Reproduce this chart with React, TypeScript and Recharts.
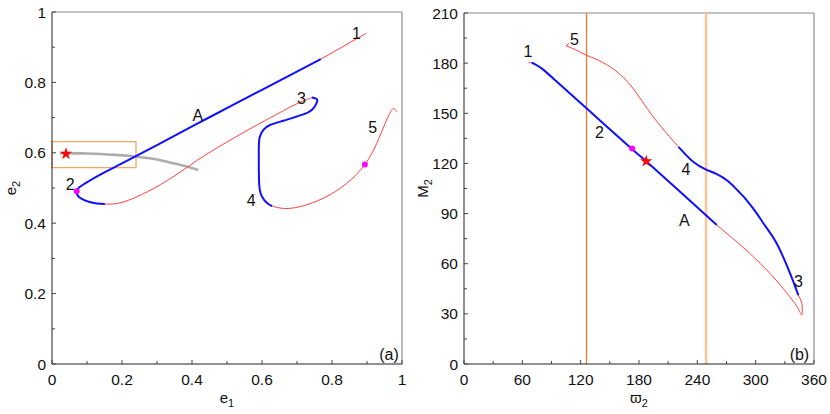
import React from "react";
import {
  ComposedChart, Line, Scatter, XAxis, YAxis, ReferenceLine, ReferenceArea, Label, Symbols,
} from "recharts";

// ---- panel (a): e1 vs e2 ----
const aTicks = [0, 0.1, 0.2, 0.3, 0.4, 0.5, 0.6, 0.7, 0.8, 0.9, 1];

const aRedTop = [[0.897, 0.939], [0.768, 0.866]];
const aBlueA = [
  [0.768, 0.866], [0.6, 0.779], [0.45, 0.701], [0.3, 0.622], [0.2, 0.57], [0.13, 0.534],
  [0.095, 0.513], [0.078, 0.502], [0.0705, 0.491], [0.073, 0.479], [0.085, 0.469],
  [0.105, 0.461], [0.128, 0.456], [0.151, 0.4545],
];
const aRed23 = [
  [0.151, 0.4545], [0.171, 0.4545], [0.2, 0.459], [0.242, 0.475], [0.309, 0.509],
  [0.385, 0.558], [0.442, 0.596], [0.537, 0.652], [0.632, 0.704], [0.699, 0.739],
  [0.732, 0.753], [0.742, 0.757],
];
const aBlue34 = [
  [0.742, 0.757], [0.754, 0.754], [0.758, 0.747], [0.749, 0.729], [0.732, 0.715],
  [0.699, 0.703], [0.661, 0.691], [0.623, 0.679], [0.604, 0.665], [0.594, 0.646],
  [0.591, 0.617], [0.591, 0.55], [0.592, 0.51], [0.596, 0.485], [0.606, 0.466],
  [0.618, 0.4545], [0.629, 0.449],
];
const aRed45 = [
  [0.629, 0.449], [0.661, 0.442], [0.709, 0.447], [0.775, 0.471], [0.842, 0.513],
  [0.894, 0.567], [0.928, 0.627], [0.956, 0.693], [0.971, 0.722], [0.977, 0.726], [0.985, 0.717],
];
const aGray = [
  [0.023, 0.599], [0.1, 0.598], [0.18, 0.594], [0.242, 0.589], [0.3, 0.581],
  [0.347, 0.57], [0.385, 0.561], [0.418, 0.551],
];
const aDots = [[0.0705, 0.491], [0.894, 0.567]];
const aStar = [[0.04, 0.597]];
const aBox = { x1: 0, x2: 0.24, y1: 0.558, y2: 0.632 };
const aLabels: [number, number, string][] = [
  [0.87, 0.94, "1"], [0.417, 0.707, "A"], [0.713, 0.753, "3"], [0.916, 0.671, "5"],
  [0.052, 0.509, "2"], [0.569, 0.464, "4"], [0.963, 0.028, "(a)"],
];

// ---- panel (b): varpi2 vs M2 ----
const bXTicks = [0, 30, 60, 90, 120, 150, 180, 210, 240, 270, 300, 330, 360];
const bYTicks = [0, 15, 30, 45, 60, 75, 90, 105, 120, 135, 150, 165, 180, 195, 210];

const bRedStart = [[66.4, 180.3], [69.5, 180.2]];
const bBlueA = [
  [69.5, 180.2], [73.3, 179.3], [80.2, 176.7], [93.8, 169.8], [126, 153], [173, 128.5],
  [187.4, 121.3], [220, 104.2], [260, 83.1],
];
const bRed3 = [
  [260, 83.1], [275, 75.8], [290, 68.3], [305, 60], [320, 50.8], [335, 40.3], [343, 33.8],
  [347.4, 29.3], [347.9, 33], [347.2, 37], [343.9, 41.2],
];
const bBlue34 = [
  [343.9, 41.2], [335.4, 54.2], [321.7, 72.1], [310, 82.5], [301.1, 90.1], [290, 98.5],
  [282, 103.5], [272, 109.2], [260, 113.6], [248, 116.6], [236, 120.9], [228, 125.3], [220.6, 129.9],
];
const bRed45 = [
  [220.6, 129.9], [203, 141.8], [189.7, 151.8], [172.6, 165.8], [155.5, 175.7],
  [138.3, 181.7], [126, 184.7], [114.4, 188.1], [105.1, 190.3],
];
const bHook = [[105.1, 190.3], [107.8, 192]];
const bDots = [[173, 128.9]];
const bStar = [[187.4, 121.3]];
const bVLines = [126, 249];
const bLabels: [number, number, string][] = [
  [65.8, 186.9, "1"], [113.6, 194.4, "5"], [139.3, 138.4, "2"], [228.3, 116.4, "4"],
  [226.6, 85.8, "A"], [343.9, 49.2, "3"], [345, 5.4, "(b)"],
];

const RED = "#ff4040";
const BLUE = "#1010ff";
const AXIS = "#222";
const FONT = "'Liberation Sans', Arial, sans-serif";

const pts = (arr: number[][]) => arr.map(([x, y]) => ({ x, y }));

// ticks point into the plot, minor ones unlabelled
const bottomTick = (isMajor: (v: number) => boolean) => (props: any) => {
  const { x, y, payload } = props;
  const v = payload.value;
  const major = isMajor(v);
  const ay = y - 15;
  return (
    <g>
      <line x1={x} x2={x} y1={ay} y2={ay - (major ? 4 : 3)} stroke="#444" strokeWidth={1} />
      {major && (
        <text x={x} y={y} textAnchor="middle" dominantBaseline="central" fontSize={15.5} fill="#111" fontFamily={FONT}>
          {v}
        </text>
      )}
    </g>
  );
};

const leftTick = (isMajor: (v: number) => boolean) => (props: any) => {
  const { x, y, payload } = props;
  const v = payload.value;
  const major = isMajor(v);
  const ax = x + 6;
  return (
    <g>
      <line x1={ax} x2={ax + (major ? 4 : 3)} y1={y} y2={y} stroke="#444" strokeWidth={1} />
      {major && (
        <text x={x} y={y} textAnchor="end" dominantBaseline="central" fontSize={15.5} fill="#111" fontFamily={FONT}>
          {v}
        </text>
      )}
    </g>
  );
};

const xTitle = (main: string, sub: string) => (props: any) => {
  const vb = props.viewBox;
  return (
    <text x={vb.x + vb.width / 2} y={vb.y + 39} textAnchor="middle" fontSize={15} fill="#111" fontFamily={FONT}>
      {main}
      <tspan dy={4} fontSize={11}>{sub}</tspan>
    </text>
  );
};

const yTitle = (main: string, sub: string) => (props: any) => {
  const vb = props.viewBox;
  const x = vb.x + vb.width - 36;
  const y = vb.y + vb.height / 2;
  return (
    <text x={x} y={y} transform={`rotate(-90, ${x}, ${y})`} textAnchor="middle" fontSize={15} fill="#111" fontFamily={FONT}>
      {main}
      <tspan dy={4} fontSize={11}>{sub}</tspan>
    </text>
  );
};

const TextMark = (props: any) => (
  <text x={props.cx} y={props.cy} textAnchor="middle" dominantBaseline="central" fontSize={16} fill="#111" fontFamily={FONT}>
    {props.payload.t}
  </text>
);
const Dot = (props: any) => <circle cx={props.cx} cy={props.cy} r={3} fill="#ff00ff" />;
const Star = (props: any) => <Symbols cx={props.cx} cy={props.cy} type="star" size={48} fill="#ff0000" />;

const seg = (data: number[][], color: string, w: number, key: string, curve: any = "natural") => (
  <Line key={key} data={pts(data)} dataKey="y" type={curve} stroke={color} strokeWidth={w}
    dot={false} activeDot={false} isAnimationActive={false} />
);

function PanelA() {
  return (
    <ComposedChart width={415} height={414} margin={{ top: 12, right: 13, left: 0, bottom: 0 }}>
      <XAxis dataKey="x" type="number" domain={[0, 1]} ticks={aTicks} interval={0}
        tickSize={0} tickMargin={15} axisLine={{ stroke: AXIS }} height={50}
        tick={bottomTick((v) => Math.round(v * 10) % 2 === 0)}>
        <Label content={xTitle("e", "1")} />
      </XAxis>
      <YAxis dataKey="y" type="number" domain={[0, 1]} ticks={aTicks} interval={0}
        tickSize={0} tickMargin={6} axisLine={{ stroke: AXIS }} width={52}
        tick={leftTick((v) => Math.round(v * 10) % 2 === 0)}>
        <Label content={yTitle("e", "2")} />
      </YAxis>
      <ReferenceLine y={1} stroke="#888" />
      <ReferenceLine x={1} stroke="#777" />
      <ReferenceArea x1={aBox.x1} x2={aBox.x2} y1={aBox.y1} y2={aBox.y2} fill="none" fillOpacity={0}
        stroke="#f5a562" strokeWidth={1.3} />
      {seg(aGray, "#acacac", 2.6, "gray")}
      {seg(aRedTop, RED, 1, "r1")}
      {seg(aBlueA, BLUE, 2, "b1")}
      {seg(aRed23, RED, 1, "r2")}
      {seg(aBlue34, BLUE, 2, "b2")}
      {seg(aRed45, RED, 1, "r3")}
      <Scatter data={pts(aDots)} shape={Dot} isAnimationActive={false} />
      <Scatter data={pts(aStar)} shape={Star} isAnimationActive={false} />
      <Scatter data={aLabels.map(([x, y, t]) => ({ x, y, t }))} shape={TextMark} isAnimationActive={false} />
    </ComposedChart>
  );
}

function PanelB() {
  return (
    <ComposedChart width={415} height={414} margin={{ top: 13, right: 16, left: 0, bottom: 0 }}>
      <XAxis dataKey="x" type="number" domain={[0, 360]} ticks={bXTicks} interval={0}
        tickSize={0} tickMargin={15} axisLine={{ stroke: AXIS }} height={50}
        tick={bottomTick((v) => v % 60 === 0)}>
        <Label content={xTitle("\u03D6", "2")} />
      </XAxis>
      <YAxis dataKey="y" type="number" domain={[0, 210]} ticks={bYTicks} interval={0}
        tickSize={0} tickMargin={6} axisLine={{ stroke: AXIS }} width={49}
        tick={leftTick((v) => v % 30 === 0)}>
        <Label content={yTitle("M", "2")} />
      </YAxis>
      <ReferenceLine y={210} stroke="#888" />
      <ReferenceLine x={360} stroke="#777" />
      <ReferenceLine x={bVLines[0]} stroke="#f07a2a" strokeWidth={1.3} />
      <ReferenceLine x={bVLines[1]} stroke="#ffc29a" strokeWidth={2.5} />
      {seg(bRedStart, RED, 1, "r0", "linear")}
      {seg(bBlueA, BLUE, 2, "b1")}
      {seg(bRed3, RED, 1, "r1")}
      {seg(bBlue34, BLUE, 2, "b2")}
      {seg(bRed45, RED, 1, "r2")}
      {seg(bHook, RED, 1, "r3", "linear")}
      <Scatter data={pts(bDots)} shape={Dot} isAnimationActive={false} />
      <Scatter data={pts(bStar)} shape={Star} isAnimationActive={false} />
      <Scatter data={bLabels.map(([x, y, t]) => ({ x, y, t }))} shape={TextMark} isAnimationActive={false} />
    </ComposedChart>
  );
}

export default function App() {
  return (
    <div style={{ position: "relative", width: 830, height: 414, background: "#fff", fontFamily: FONT }}>
      <style>{"body{margin:0}"}</style>
      <div style={{ position: "absolute", left: 0, top: 0 }}>
        <PanelA />
      </div>
      <div style={{ position: "absolute", left: 415, top: 0 }}>
        <PanelB />
      </div>
    </div>
  );
}
